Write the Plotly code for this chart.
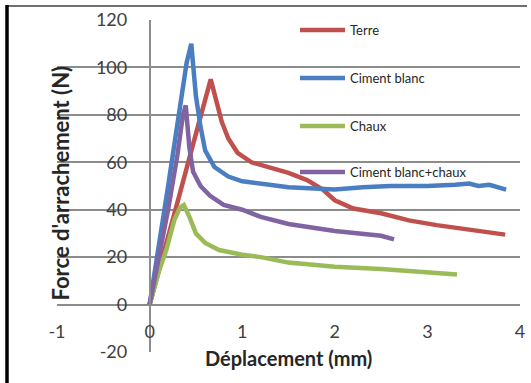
import plotly.graph_objects as go

# Data
terre_x = [0, 0.1, 0.3, 0.5, 0.6, 0.66, 0.72, 0.78, 0.85, 0.95, 1.1, 1.3, 1.5, 1.7, 1.87, 2.0, 2.2, 2.5, 2.8, 3.1, 3.4, 3.6, 3.84]
terre_y = [0, 14, 43, 72, 87, 95, 86, 77, 70, 64, 60, 57.5, 55.5, 52.5, 48.5, 44, 40.5, 38.5, 35.5, 33.5, 32, 31, 29.5]

blanc_x = [0, 0.1, 0.2, 0.3, 0.4, 0.45, 0.5, 0.55, 0.6, 0.7, 0.85, 1.0, 1.2, 1.5, 2.0, 2.3, 2.6, 3.0, 3.3, 3.45, 3.55, 3.67, 3.85]
blanc_y = [0, 24, 50, 76, 102, 110, 88, 75, 65, 58, 54, 52, 51, 49.5, 48.5, 49.5, 50, 50, 50.5, 51, 50, 50.5, 48.5]

chaux_x = [0, 0.1, 0.18, 0.27, 0.33, 0.37, 0.43, 0.5, 0.6, 0.75, 1.0, 1.2, 1.5, 2.0, 2.5, 3.0, 3.32]
chaux_y = [0, 14, 23, 36, 41, 42, 37, 30, 26, 23, 21, 20, 17.7, 16, 15, 13.5, 12.7]

mix_x = [0, 0.1, 0.2, 0.3, 0.36, 0.39, 0.43, 0.47, 0.55, 0.65, 0.8, 1.0, 1.2, 1.5, 2.0, 2.5, 2.64]
mix_y = [0, 20, 40, 63, 80, 84, 66, 56, 50, 46, 42, 40, 37, 34, 31, 29, 27.5]

series = [
    ("Terre", terre_x, terre_y, "#C0504D", "legend"),
    ("Ciment blanc", blanc_x, blanc_y, "#4A7EC2", "legend2"),
    ("Chaux", chaux_x, chaux_y, "#9BBB59", "legend3"),
    ("Ciment blanc+chaux", mix_x, mix_y, "#8064A2", "legend4"),
]

x_ticks = [-1, 0, 1, 2, 3, 4]
x_tick_text = ["-1", "0", "1", "2", "3", "4"]
y_ticks = [-20, 0, 20, 40, 60, 80, 100, 120]
y_tick_text = ["-20", "0", "20", "40", "60", "80", "100", "120"]

FONT = "Lato"
W, H = 531, 383
L, R, T, B = 57, 11, 20, 31
pw, ph = W - L - R, H - T - B

def px_x(p):
    return (p - L) / pw

def px_y(p):
    return (H - B - p) / ph

fig = go.Figure()
for name, xs, ys, col, lg in series:
    fig.add_trace(go.Scatter(x=xs, y=ys, mode="lines", name=name, showlegend=True,
                             line=dict(color=col, width=4.5), legend=lg))

leg_rows = [30, 78, 126, 172]
leg_common = dict(x=px_x(295), xanchor="left", yanchor="middle",
                  bgcolor="rgba(0,0,0,0)", borderwidth=0,
                  font=dict(family=FONT, size=13, color="#262626"),
                  itemwidth=45, visible=True)
fig.update_layout(
    width=W, height=H,
    margin=dict(l=L, r=R, t=T, b=B, autoexpand=False),
    showlegend=True,
    paper_bgcolor="white", plot_bgcolor="white",
    font=dict(family=FONT, size=18, color="#404040"),
    legend=dict(y=px_y(leg_rows[0]), **leg_common),
    legend2=dict(y=px_y(leg_rows[1]), **leg_common),
    legend3=dict(y=px_y(leg_rows[2]), **leg_common),
    legend4=dict(y=px_y(leg_rows[3]), **leg_common),
    xaxis=dict(range=[-1, 4], tickvals=x_ticks, ticktext=x_tick_text,
               showgrid=False, zeroline=False,
               showline=False, anchor="free", position=20 / 140,
               ticks="", ticklabelstandoff=14, automargin=False,
               tickfont=dict(family=FONT, size=18, color="#404040")),
    yaxis=dict(range=[-20, 120], tickvals=y_ticks, ticktext=y_tick_text,
               showgrid=True,
               gridcolor="#8C8C8C", gridwidth=1.5, zeroline=False,
               showline=True, linecolor="#8C8C8C", linewidth=1.5,
               anchor="free", position=0.2, ticks="", ticklabelstandoff=18,
               automargin=False,
               tickfont=dict(family=FONT, size=18, color="#404040")),
)

fig.add_annotation(text="<b>Déplacement (mm)</b>", xref="paper", yref="paper",
                   x=px_x(288), y=px_y(372), showarrow=False,
                   font=dict(family=FONT, size=20, color="#262626"))
fig.add_annotation(text="<b>Force d'arrachement (N)</b>", xref="paper", yref="paper",
                   x=px_x(44), y=px_y(183), showarrow=False, textangle=-90,
                   font=dict(family=FONT, size=22, color="#262626"))

# frame
fig.add_shape(type="line", xref="paper", yref="paper",
              x0=px_x(7), x1=px_x(527), y0=px_y(6), y1=px_y(6),
              line=dict(color="#404040", width=1.5))
fig.add_shape(type="line", xref="paper", yref="paper",
              x0=px_x(7), x1=px_x(7), y0=px_y(5), y1=px_y(390),
              line=dict(color="black", width=3.5))

fig.write_html("out.html", config={"displayModeBar": False},
               post_script="document.body.style.margin='0';document.body.style.overflow='hidden';")
